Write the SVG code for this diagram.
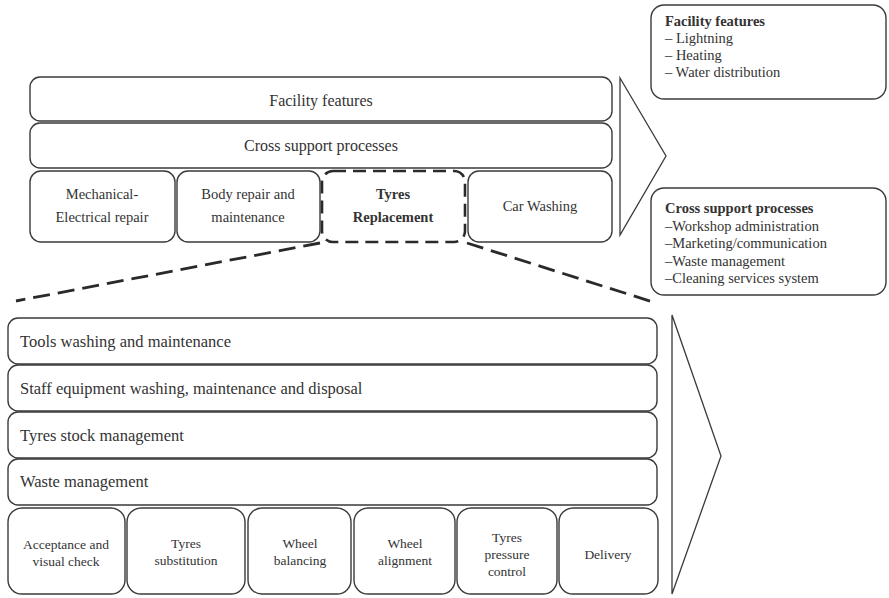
<svg xmlns="http://www.w3.org/2000/svg" width="889" height="598" viewBox="0 0 889 598">
<style>
.b{fill:#fff;stroke:#3a3a3a;stroke-width:1.4}
.d{fill:#fff;stroke:#2a2a2a;stroke-width:2.6;stroke-dasharray:13 7}
.dl{fill:none;stroke:#2a2a2a;stroke-width:2.8;stroke-dasharray:17 8}
.ch{fill:none;stroke:#3a3a3a;stroke-width:1.3;stroke-linejoin:miter}
text{font-family:"Liberation Serif","Times New Roman",serif;fill:#333;font-size:16px}
.r{font-size:16.5px}
.c{text-anchor:middle}
.s{font-size:14.5px}
.t{font-size:13.5px}
.i{font-size:14.5px}
.bd{font-weight:bold}
</style>
<rect width="889" height="598" fill="#fff"/>
<g id="connectors">
<polygon class="ch" points="620,78 666,156 620,235"/>
<polygon class="ch" points="672,315 721,456 672,594"/>
<line class="dl" x1="320" y1="243" x2="16" y2="301"/>
<line class="dl" x1="467" y1="243" x2="656" y2="303"/>
</g>
<g id="facility">
<rect class="b" x="30" y="77" width="582" height="44" rx="10"/>
<text class="c" x="321" y="106">Facility features</text>
</g>
<g id="cross">
<rect class="b" x="30" y="123" width="582" height="45" rx="10"/>
<text class="c" x="321" y="151">Cross support processes</text>
</g>
<g id="mech">
<rect class="b" x="30" y="171" width="145" height="71" rx="11"/>
<text class="c s" x="102" y="199">Mechanical-</text>
<text class="c s" x="102" y="222">Electrical repair</text>
</g>
<g id="body">
<rect class="b" x="177" y="171" width="143" height="71" rx="11"/>
<text class="c s" x="248" y="199">Body repair and</text>
<text class="c s" x="248" y="222">maintenance</text>
</g>
<g id="tyres">
<rect class="d" x="322" y="171" width="143" height="71" rx="11"/>
<text class="c s bd" x="393" y="199">Tyres</text>
<text class="c s bd" x="393" y="222">Replacement</text>
</g>
<g id="carwash">
<rect class="b" x="468" y="171" width="144" height="71" rx="11"/>
<text class="c s" x="540" y="211">Car Washing</text>
</g>
<g id="facility-info">
<rect class="b" x="651" y="5" width="235" height="94" rx="13"/>
<text class="i bd" x="665" y="26">Facility features</text>
<text class="i" x="665" y="43">– Lightning</text>
<text class="i" x="665" y="60">– Heating</text>
<text class="i" x="665" y="77">– Water distribution</text>
</g>
<g id="cross-info">
<rect class="b" x="651" y="188" width="235" height="107" rx="13"/>
<text class="i bd" x="665" y="213">Cross support processes</text>
<text class="i" x="665" y="230.5">–Workshop administration</text>
<text class="i" x="665" y="248">–Marketing/communication</text>
<text class="i" x="665" y="265.5">–Waste management</text>
<text class="i" x="665" y="283">–Cleaning services system</text>
</g>
<g id="tools">
<rect class="b" x="8" y="318" width="649" height="46" rx="10"/>
<text class="r" x="20" y="347">Tools washing and maintenance</text>
</g>
<g id="staff">
<rect class="b" x="8" y="365" width="649" height="46" rx="10"/>
<text class="r" x="20" y="394">Staff equipment washing, maintenance and disposal</text>
</g>
<g id="stock">
<rect class="b" x="8" y="412" width="649" height="46" rx="10"/>
<text class="r" x="20" y="441">Tyres stock management</text>
</g>
<g id="waste">
<rect class="b" x="8" y="459" width="649" height="46" rx="10"/>
<text class="r" x="20" y="487">Waste management</text>
</g>
<g id="acceptance">
<rect class="b" x="8" y="508" width="117" height="86" rx="14"/>
<text class="c t" x="66" y="549">Acceptance and</text>
<text class="c t" x="66" y="566">visual check</text>
</g>
<g id="substitution">
<rect class="b" x="127" y="508" width="118" height="86" rx="14"/>
<text class="c t" x="186" y="548">Tyres</text>
<text class="c t" x="186" y="565">substitution</text>
</g>
<g id="balancing">
<rect class="b" x="248" y="508" width="103" height="86" rx="14"/>
<text class="c t" x="300" y="548">Wheel</text>
<text class="c t" x="300" y="565">balancing</text>
</g>
<g id="alignment">
<rect class="b" x="354" y="508" width="101" height="86" rx="14"/>
<text class="c t" x="405" y="548">Wheel</text>
<text class="c t" x="405" y="565">alignment</text>
</g>
<g id="pressure">
<rect class="b" x="457" y="508" width="100" height="86" rx="14"/>
<text class="c t" x="507" y="542">Tyres</text>
<text class="c t" x="507" y="559">pressure</text>
<text class="c t" x="507" y="576">control</text>
</g>
<g id="delivery">
<rect class="b" x="559" y="508" width="99" height="86" rx="14"/>
<text class="c t" x="608" y="559">Delivery</text>
</g>
</svg>
